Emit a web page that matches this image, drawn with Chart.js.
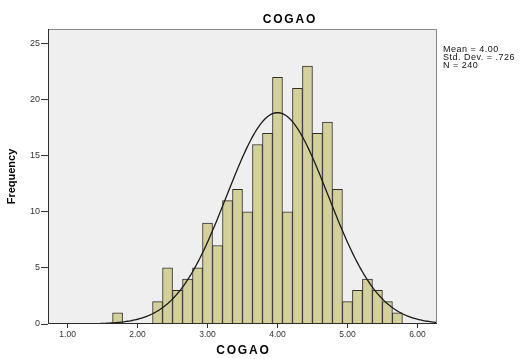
<!DOCTYPE html>
<html>
<head>
<meta charset="utf-8">
<title>COGAO</title>
<script src="https://cdn.jsdelivr.net/npm/chart.js@4/dist/chart.umd.min.js"></script>
<style>
  html, body { margin: 0; padding: 0; background: #ffffff; }
  canvas { display: block; }
</style>
</head>
<body>
<canvas id="hist" width="520" height="359"></canvas>
<script>
// Histogram of COGAO scores (bin width 1/7) with fitted normal curve
const binCenters = [1.7143, 2.2857, 2.4286, 2.5714, 2.7143, 2.8571, 3.0000, 3.1429,
  3.2857, 3.4286, 3.5714, 3.7143, 3.8571, 4.0000, 4.1429, 4.2857, 4.4286, 4.5714,
  4.7143, 4.8571, 5.0000, 5.1429, 5.2857, 5.4286, 5.5714, 5.7143];
const frequencies = [1, 2, 5, 3, 4, 5, 9, 7, 11, 12, 10, 16, 17, 22, 10, 21, 23, 17,
  18, 12, 2, 3, 4, 3, 2, 1];

const xTicks = [1, 2, 3, 4, 5, 6];
const xTickLabels = ['1.00', '2.00', '3.00', '4.00', '5.00', '6.00'];
const yTicks = [0, 5, 10, 15, 20, 25];

const MEAN = 4.00;
const SD = 0.726;
const N = 240;
const BIN_WIDTH = 1 / 7;
const X_MIN = 0.72, X_MAX = 6.28;
const Y_MAX = 26.3;

const statLines = ['Mean = 4.00', 'Std. Dev. = .726', 'N = 240'];

// Normal density scaled to counts per bin
function normalCount(x) {
  const z = (x - MEAN) / SD;
  return N * BIN_WIDTH * Math.exp(-0.5 * z * z) / (SD * Math.sqrt(2 * Math.PI));
}
const curvePoints = [];
for (let x = X_MIN; x <= X_MAX + 1e-9; x += 0.02) {
  curvePoints.push({ x: x, y: normalCount(x) });
}

const barPoints = binCenters.map((c, i) => ({ x: c, y: frequencies[i] }));

const FONT = '"Liberation Sans", Arial, sans-serif';

const plotFrame = {
  id: 'plotFrame',
  beforeDatasetsDraw(chart) {
    const { ctx, chartArea: a } = chart;
    ctx.save();
    ctx.fillStyle = '#efefef';
    ctx.fillRect(a.left, a.top, a.right - a.left, a.bottom - a.top);
    ctx.restore();
  },
  afterDatasetsDraw(chart) {
    const { ctx, chartArea: a } = chart;
    ctx.save();
    ctx.lineWidth = 1;
    ctx.strokeStyle = '#8a8a8a';
    ctx.beginPath();
    ctx.moveTo(a.left, a.top + 0.5);
    ctx.lineTo(a.right - 0.5, a.top + 0.5);
    ctx.lineTo(a.right - 0.5, a.bottom);
    ctx.stroke();
    ctx.strokeStyle = '#2b2b2b';
    ctx.beginPath();
    ctx.moveTo(a.left + 0.5, a.top);
    ctx.lineTo(a.left + 0.5, a.bottom - 0.5);
    ctx.lineTo(a.right, a.bottom - 0.5);
    ctx.stroke();
    ctx.restore();
  },
  afterDraw(chart) {
    const { ctx, chartArea: a } = chart;
    ctx.save();
    ctx.fillStyle = '#000000';
    ctx.textBaseline = 'middle';
    ctx.textAlign = 'left';
    // Chart title and x axis title, spaced bold caps
    ctx.font = 'bold 12px ' + FONT;
    ctx.letterSpacing = '1.8px';
    const drawSpaced = (text, cx, cy) => {
      const w = ctx.measureText(text).width - 1.8;
      ctx.fillText(text, cx - w / 2, cy);
    };
    drawSpaced('COGAO', 289, 20);
    drawSpaced('COGAO', (a.left + a.right) / 2, 351);
    // Summary statistics
    ctx.font = '9px ' + FONT;
    ctx.letterSpacing = '0.5px';
    ctx.fillStyle = '#111111';
    statLines.forEach((s, i) => ctx.fillText(s, 443, 49.5 + i * 8));
    ctx.restore();
  }
};

new Chart(document.getElementById('hist'), {
  type: 'bar',
  data: {
    datasets: [
      {
        type: 'line',
        data: curvePoints,
        borderColor: '#1a1a1a',
        borderWidth: 1.3,
        pointRadius: 0,
        tension: 0,
        order: 0
      },
      {
        type: 'bar',
        data: barPoints,
        backgroundColor: '#d4d09b',
        borderColor: '#2e2e2e',
        borderWidth: 1,
        barPercentage: 1,
        categoryPercentage: 1,
        order: 1
      }
    ]
  },
  options: {
    responsive: false,
    animation: false,
    devicePixelRatio: 1,
    layout: { padding: { top: 29, right: 83, left: 0, bottom: 0 } },
    plugins: {
      legend: { display: false },
      title: { display: false },
      tooltip: { enabled: false }
    },
    scales: {
      x: {
        type: 'linear',
        min: X_MIN,
        max: X_MAX,
        offset: false,
        border: { display: false },
        grid: { offset: false, drawOnChartArea: false, tickLength: 4, color: '#333333', tickWidth: 1 },
        ticks: {
          padding: 2,
          color: '#333333',
          font: { size: 8.5, family: FONT },
          maxRotation: 0,
          autoSkip: false,
          callback: (v) => xTickLabels[xTicks.indexOf(v)] ?? ''
        },
        afterBuildTicks: (s) => { s.ticks = xTicks.map(v => ({ value: v })); },
        afterFit: (s) => { s.height = 35; }
      },
      y: {
        min: 0,
        max: Y_MAX,
        border: { display: false },
        grid: { drawOnChartArea: false, tickLength: 7, color: '#333333', tickWidth: 1 },
        ticks: {
          padding: 1,
          color: '#333333',
          font: { size: 9, family: FONT }
        },
        afterBuildTicks: (s) => { s.ticks = yTicks.map(v => ({ value: v })); },
        afterFit: (s) => { s.width = 48; },
        title: {
          display: true,
          text: 'Frequency',
          color: '#000000',
          font: { size: 11, weight: 'bold', family: FONT },
          padding: { top: 5, bottom: 0 }
        }
      }
    }
  },
  plugins: [plotFrame]
});
</script>
</body>
</html>
